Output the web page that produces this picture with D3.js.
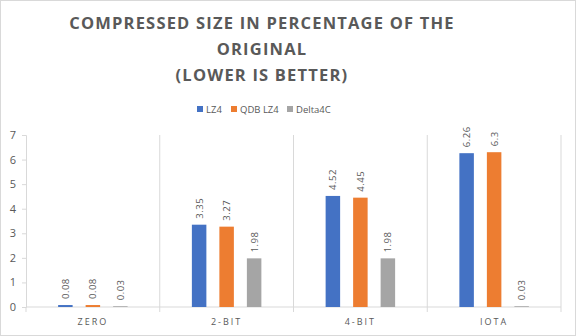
<!DOCTYPE html>
<html>
<head>
<meta charset="utf-8">
<script src="https://cdn.jsdelivr.net/npm/d3@7"></script>
<style>
  body { margin: 0; background: #fff; }
  text { font-family: "Open Sans", "Liberation Sans", sans-serif; fill: #595959; }
</style>
</head>
<body>
<div id="chart"></div>
<script>
/* chart data */
let categories = ["ZERO", "2-BIT", "4-BIT", "IOTA"];
let seriesNames = ["LZ4", "QDB LZ4", "Delta4C"];
let lz4 = [0.08, 3.35, 4.52, 6.26];
let qdbLz4 = [0.08, 3.27, 4.45, 6.3];
let delta4c = [0.03, 1.98, 1.98, 0.03];
let yTicks = [0, 1, 2, 3, 4, 5, 6, 7];
let titleLines = ["COMPRESSED SIZE IN PERCENTAGE OF THE", "ORIGINAL", "(LOWER IS BETTER)"];

let colors = ["#4472c4", "#ed7d31", "#a5a5a5"];
let seriesValues = [lz4, qdbLz4, delta4c];

/* dimensions */
let width = 576;
let height = 336;
let margin = {top: 135, bottom: 29, left: 26, right: 15};
let pWidth = width - margin.left - margin.right;
let pHeight = height - margin.top - margin.bottom;

let svg = d3.select("#chart")
            .append("svg")
              .attr("width", width)
              .attr("height", height);

// chart border
svg.append("rect")
   .attr("x", 0.5).attr("y", 0.5)
   .attr("width", width - 1).attr("height", height - 1)
   .attr("fill", "#fff")
   .attr("stroke", "#d9d9d9");

// title
svg.append("g")
   .selectAll("text")
   .data(titleLines)
   .enter()
   .append("text")
     .attr("x", 262)
     .attr("y", (d, i) => 29 + i * 26)
     .attr("text-anchor", "middle")
     .attr("font-size", 16.5)
     .attr("font-weight", "bold")
     .attr("letter-spacing", 1.2)
     .text(d => d);

let xScale = d3.scaleBand()
               .domain(categories)
               .range([0, pWidth]);

let yScale = d3.scaleLinear()
               .domain([0, 7])
               .range([pHeight, 0]);

let barWidth = 14.5;
let barStep = 27.5;

let plot = svg.append("g")
              .attr("transform", `translate(${margin.left}, ${margin.top})`);

// vertical gridlines at category boundaries
let bounds = categories.map(c => xScale(c)).concat([pWidth]);
plot.append("g")
    .selectAll("line")
    .data(bounds.slice(1))
    .enter()
    .append("line")
      .attr("x1", d => d).attr("x2", d => d)
      .attr("y1", 0).attr("y2", pHeight)
      .attr("stroke", "#d9d9d9");

// y axis
let yAxis = plot.append("g")
    .call(d3.axisLeft(yScale).tickValues(yTicks).tickFormat(d3.format("d")).tickSize(4).tickPadding(6));
yAxis.selectAll("line").attr("stroke", "#d9d9d9");
yAxis.select(".domain").attr("stroke", "#d9d9d9");
yAxis.selectAll("text")
     .attr("font-size", 11)
     .attr("font-family", "Open Sans, sans-serif")
     .style("fill", "#595959");

// x axis
let xAxisG = plot.append("g")
                 .attr("transform", `translate(0, ${pHeight})`);
xAxisG.append("line")
      .attr("x1", 0).attr("x2", pWidth)
      .attr("y1", 0).attr("y2", 0)
      .attr("stroke", "#d9d9d9");
xAxisG.selectAll(".tick")
      .data(bounds)
      .enter()
      .append("line")
        .attr("x1", d => d).attr("x2", d => d)
        .attr("y1", 0).attr("y2", 5)
        .attr("stroke", "#d9d9d9");
xAxisG.selectAll(".cat")
      .data(categories)
      .enter()
      .append("text")
        .attr("x", d => xScale(d) + xScale.bandwidth() / 2)
        .attr("y", 18)
        .attr("text-anchor", "middle")
        .attr("font-size", 9)
        .attr("letter-spacing", 2)
        .text(d => d);

// bars and rotated value labels
seriesValues.forEach((vals, s) => {
  let cx = c => xScale(c) + xScale.bandwidth() / 2 + (s - 1) * barStep;
  plot.append("g")
      .selectAll("rect")
      .data(vals)
      .enter()
      .append("rect")
        .attr("x", (d, i) => cx(categories[i]) - barWidth / 2)
        .attr("y", d => yScale(d))
        .attr("width", barWidth)
        .attr("height", d => pHeight - yScale(d))
        .attr("fill", colors[s]);

  plot.append("g")
      .selectAll("text")
      .data(vals)
      .enter()
      .append("text")
        .attr("transform", (d, i) => `translate(${cx(categories[i]) + 3.5}, ${yScale(d) - 6}) rotate(-90)`)
        .attr("font-size", 9.5)
        .attr("letter-spacing", 0.5)
        .text(d => d);
});

// legend
let legend = svg.append("g")
                .attr("transform", "translate(197, 109)");
let legendX = [0, 34, 90];
let legendItems = legend.selectAll("g")
                        .data(seriesNames)
                        .enter()
                        .append("g")
                          .attr("transform", (d, i) => `translate(${legendX[i]}, 0)`);
legendItems.append("rect")
           .attr("x", 0).attr("y", -3)
           .attr("width", 6).attr("height", 6)
           .attr("fill", (d, i) => colors[i]);
legendItems.append("text")
           .attr("x", 9)
           .attr("y", 3.5)
           .attr("font-size", 9.5)
           .text(d => d);
</script>
</body>
</html>
